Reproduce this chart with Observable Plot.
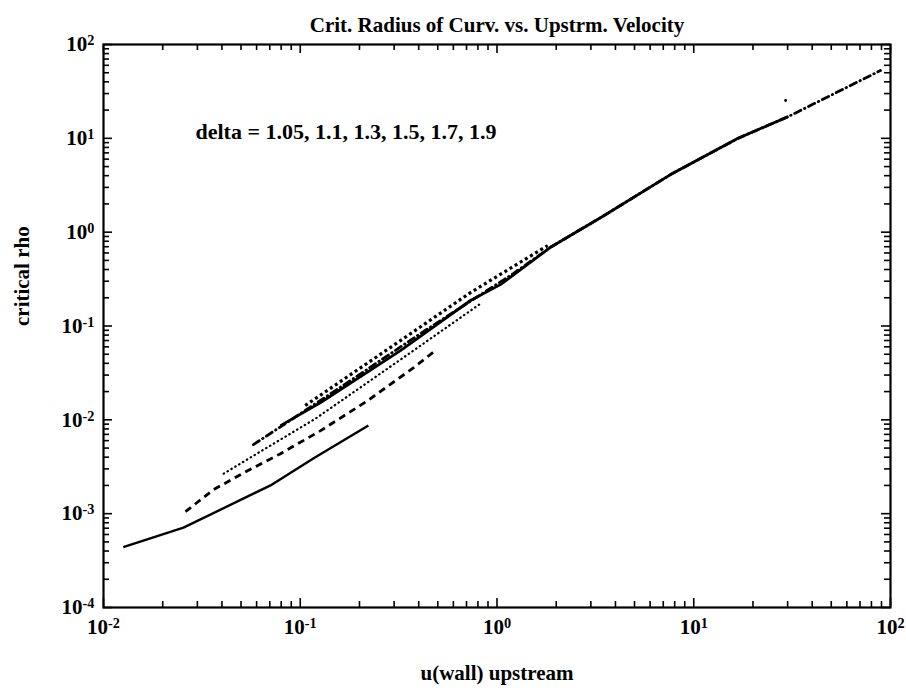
<!DOCTYPE html>
<html><head><meta charset="utf-8">
<script src="https://cdn.jsdelivr.net/npm/d3@7"></script>
<script src="https://cdn.jsdelivr.net/npm/@observablehq/plot@0.6"></script>
<style>
html,body{margin:0;padding:0;background:#fff;}
</style>
</head><body><div id="chart"></div>
<script>
// ---- text ----
const titleText = "Crit. Radius of Curv. vs. Upstrm. Velocity";
const xLabel = "u(wall) upstream";
const yLabel = "critical rho";
const noteText = "delta = 1.05, 1.1, 1.3, 1.5, 1.7, 1.9";

// ---- tick labels (decades) ----
const xTicks = [0.01, 0.1, 1, 10, 100];
const yTicks = [1e-4, 1e-3, 1e-2, 1e-1, 1, 10, 100];

// ---- series ----
const d105_x = [0.0126, 0.0255, 0.0706, 0.117, 0.222];
const d105_y = [0.00044, 0.00071, 0.0020, 0.0039, 0.0087];

const d11_x = [0.0261, 0.0362, 0.054, 0.0794, 0.127, 0.22, 0.377, 0.486];
const d11_y = [0.00105, 0.0018, 0.00287, 0.00436, 0.00767, 0.016, 0.036, 0.0547];

const d13_x = [0.0408, 0.0614, 0.1195, 0.323, 0.824];
const d13_y = [0.00267, 0.00447, 0.0103, 0.0438, 0.173];

const d15_x = [0.0578, 0.1, 0.18, 0.408, 1.21, 1.89, 3.44, 7.62, 16.7, 30.3, 88.9];
const d15_y = [0.00544, 0.0116, 0.0262, 0.083, 0.362, 0.70, 1.47, 4.11, 9.95, 17.1, 52.8];

const d17_x = [0.0794, 0.127, 0.323, 0.733, 1.04, 1.89, 3.44, 7.62, 16.7, 30.3];
const d17_y = [0.00867, 0.0153, 0.0547, 0.187, 0.276, 0.70, 1.47, 4.11, 9.95, 17.1];

const d19_x = [0.106, 0.323, 0.733, 1.81];
const d19_y = [0.0142, 0.0699, 0.227, 0.72];

const stray_x = [29.3];
const stray_y = [25.3];

// ---- build tables ----
const zip = (xs, ys) => xs.map((x, i) => ({x, y: ys[i]}));
const series = [
  {data: zip(d105_x, d105_y), dash: null, w: 2.4, cap: "butt"},
  {data: zip(d11_x, d11_y), dash: "7,5", w: 2.8, cap: "butt"},
  {data: zip(d13_x, d13_y), dash: "0.5,4", w: 2.2, cap: "round"},
  {data: zip(d15_x, d15_y), dash: "7,4,0.5,4", w: 2.8, cap: "round"},
  {data: zip(d17_x, d17_y), dash: null, w: 2.8, cap: "butt"},
  {data: zip(d19_x, d19_y), dash: "3,3", w: 3.2, cap: "butt"}
];

const minor = (decades) => {
  const out = [];
  for (let i = 0; i < decades.length - 1; i++)
    for (let k = 2; k <= 9; k++) out.push(decades[i] * k);
  return out;
};
const xMinor = minor(xTicks), yMinor = minor(yTicks);

const supMap = {"-": "\u207B", "0": "\u2070", "1": "\u00B9", "2": "\u00B2", "3": "\u00B3", "4": "\u2074"};
const fmt = d => "10" + String(Math.round(Math.log10(d))).split("").map(c => supMap[c]).join("");

const W = 906, H = 690, mL = 103, mR = 16, mT = 44, mB = 83;
const pw = W - mL - mR, ph = H - mT - mB;
const majLen = 9, minLen = 6;

const lineMarks = series.map(s => Plot.line(s.data, {
  x: "x", y: "y", stroke: "black", strokeWidth: s.w,
  strokeDasharray: s.dash, strokeLinecap: s.cap, curve: "linear"
}));

const chart = Plot.plot({
  width: W, height: H,
  marginLeft: mL, marginRight: mR, marginTop: mT, marginBottom: mB,
  style: {fontFamily: "'Liberation Serif', 'DejaVu Serif', serif", fontSize: "21px", background: "#fff", color: "#000"},
  x: {type: "log", domain: [0.01, 100]},
  y: {type: "log", domain: [1e-4, 100]},
  marks: [
    Plot.ruleX(xTicks, {x: d => d, insetTop: ph - majLen, strokeWidth: 1.6}),
    Plot.ruleX(xTicks, {x: d => d, insetBottom: ph - majLen, strokeWidth: 1.6}),
    Plot.ruleX(xMinor, {x: d => d, insetTop: ph - minLen, strokeWidth: 1.6}),
    Plot.ruleX(xMinor, {x: d => d, insetBottom: ph - minLen, strokeWidth: 1.6}),
    Plot.ruleY(yTicks, {y: d => d, insetRight: pw - majLen, strokeWidth: 1.6}),
    Plot.ruleY(yTicks, {y: d => d, insetLeft: pw - majLen, strokeWidth: 1.6}),
    Plot.ruleY(yMinor, {y: d => d, insetRight: pw - minLen, strokeWidth: 1.6}),
    Plot.ruleY(yMinor, {y: d => d, insetLeft: pw - minLen, strokeWidth: 1.6}),
    Plot.axisX({ticks: xTicks, tickSize: 0, tickPadding: 12, tickFormat: fmt, label: null, fontWeight: "bold", fontSize: 21}),
    Plot.axisY({ticks: yTicks, tickSize: 0, tickPadding: 9, tickFormat: fmt, label: null, fontWeight: "bold", fontSize: 21}),
    Plot.frame({stroke: "black", strokeWidth: 2.2}),
    ...lineMarks,
    Plot.dot(zip(stray_x, stray_y), {x: "x", y: "y", r: 1.4, fill: "black"}),
    Plot.text([noteText], {frameAnchor: "top-left", dx: 92, dy: 79, textAnchor: "start", fontSize: 22, fontWeight: "bold"}),
    Plot.text([titleText], {frameAnchor: "top", dy: -27, fontSize: 21, fontWeight: "bold"}),
    Plot.text([xLabel], {frameAnchor: "bottom", dy: 72, fontSize: 21, fontWeight: "bold"}),
    Plot.text([yLabel], {frameAnchor: "left", dx: -81, rotate: -90, fontSize: 21, fontWeight: "bold"})
  ]
});
document.getElementById("chart").appendChild(chart);

// render the exponents as raised, smaller tspans
const back = {"\u207B": "-", "\u2070": "0", "\u00B9": "1", "\u00B2": "2", "\u00B3": "3", "\u2074": "4"};
chart.querySelectorAll('g[aria-label$="tick label"] text').forEach(t => {
  const s = t.textContent;
  if (!s.startsWith("10")) return;
  const exp = s.slice(2).split("").map(c => back[c] ?? c).join("");
  t.textContent = "10";
  const ts = document.createElementNS("http://www.w3.org/2000/svg", "tspan");
  ts.setAttribute("dy", "-0.42em");
  ts.setAttribute("font-size", "0.68em");
  ts.textContent = exp;
  t.appendChild(ts);
});
</script>
</body></html>
